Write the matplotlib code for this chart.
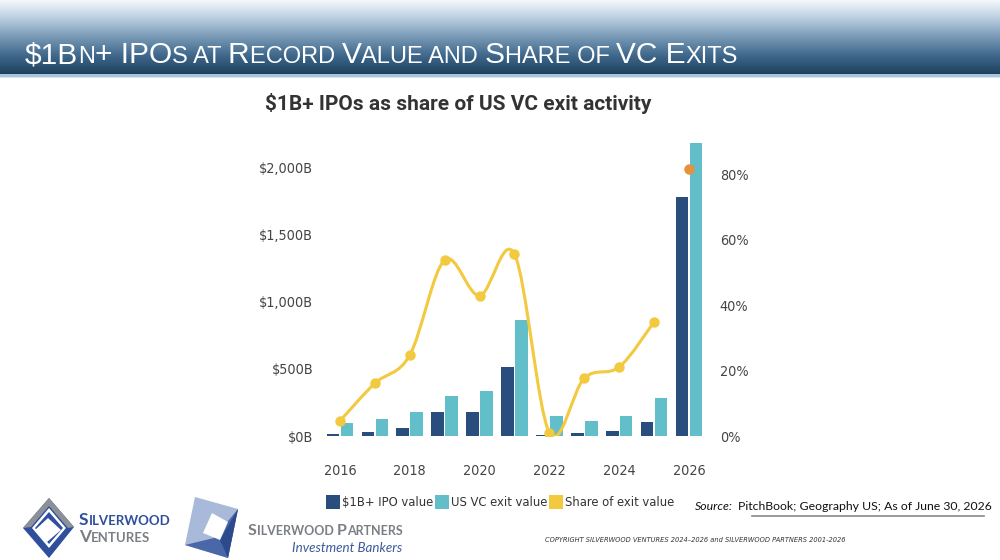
import numpy as np
import matplotlib.pyplot as plt
from matplotlib.path import Path
from matplotlib.patches import PathPatch, Polygon, Rectangle

# data
years = [2016, 2017, 2018, 2019, 2020, 2021, 2022, 2023, 2024, 2025, 2026]
ipo_value = [15, 32, 57, 178, 176, 515, 5, 20, 40, 102, 1779]          # $B
exit_value = [94, 124, 176, 300, 335, 862, 149, 114, 151, 283, 2181]   # $B
share_years = [2016, 2017, 2018, 2019, 2020, 2021, 2022, 2023, 2024, 2025]
share = [4.6, 16.1, 24.7, 53.8, 42.9, 55.6, 1.0, 17.7, 21.1, 34.9]     # %
share_2026 = 81.7

left_ticks = [0, 500, 1000, 1500, 2000]
left_labels = ['$0B', '$500B', '$1,000B', '$1,500B', '$2,000B']
right_ticks = [0, 20, 40, 60, 80]
right_labels = ['0%', '20%', '40%', '60%', '80%']
year_ticks = [2016, 2018, 2020, 2022, 2024, 2026]

c_ipo = '#294d7c'
c_exit = '#62bec8'
c_share = '#f2c93f'
c_last = '#e8913c'
c_tick = '#444444'

W, H = 1000, 560
fig = plt.figure(figsize=(10, 5.6), dpi=100)

# background layer in pixel coords
bg = fig.add_axes([0, 0, 1, 1])
bg.set_xlim(0, W)
bg.set_ylim(H, 0)
bg.axis('off')

# header gradient band
grad = np.linspace(0, 1, 74)
stops = np.array([[0.96, 0.97, 0.98], [0.72, 0.80, 0.88], [0.47, 0.60, 0.71],
                  [0.25, 0.41, 0.55], [0.12, 0.26, 0.37]])
pos = np.linspace(0, 1, len(stops))
rgb = np.stack([np.interp(grad, pos, stops[:, k]) for k in range(3)], axis=1)
bg.imshow(rgb[:, None, :], extent=[0, W, 74, 0], aspect='auto', zorder=0)
bg.add_patch(Rectangle((0, 74), W, 2.5, color='#a9c4de', lw=0))
bg.add_patch(Rectangle((0, 76.5), W, 1.5, color='#d8e4f0', lw=0))
bg.set_xlim(0, W)
bg.set_ylim(H, 0)

renderer = fig.canvas.get_renderer()


def small_caps(parts, x, y, color, family, weight='normal', style='normal'):
    # parts: list of (text, size)
    for txt, size in parts:
        t = bg.text(x, y, txt, fontsize=size, color=color, family=family,
                    weight=weight, style=style, va='baseline', ha='left')
        bb = t.get_window_extent(renderer)
        x += bb.width
    return x


B, S = 21.5, 17
small_caps([('$1B', B), ('N', S), ('+ IPO', B), ('S AT ', S), ('R', B), ('ECORD ', S),
            ('V', B), ('ALUE AND ', S), ('S', B), ('HARE OF ', S), ('VC E', B), ('XITS', S)],
           25, 63, 'white', ['Liberation Sans', 'DejaVu Sans'])

# chart title
bg.text(265, 104, '$1B+ IPOs as share of US VC exit activity', fontsize=15,
        weight='bold', color='#333333', family=['Roboto', 'DejaVu Sans'],
        va='center', ha='left')

# main chart
ax = fig.add_axes([320 / W, (H - 436) / H, 390 / W, (436 - 140) / H])
x = np.array(years)
ax.bar(x - 0.2, ipo_value, width=0.36, color=c_ipo, zorder=2)
ax.bar(x + 0.2, exit_value, width=0.36, color=c_exit, zorder=2)
ax.set_xlim(2015.43, 2026.60)
ax.set_ylim(0, 2203)
ax.set_yticks(left_ticks)
ax.set_yticklabels(left_labels)
ax.set_xticks(year_ticks)
ax.tick_params(axis='y', length=0, pad=5, labelsize=10.3, labelcolor=c_tick)
ax.tick_params(axis='x', length=0, pad=20, labelsize=10.3, labelcolor=c_tick)
for s in ax.spines.values():
    s.set_visible(False)

ax2 = ax.twinx()
ax2.set_ylim(0, 90.49)
ax2.set_yticks(right_ticks)
ax2.set_yticklabels(right_labels)
ax2.tick_params(axis='y', length=0, pad=7, labelsize=10.3, labelcolor=c_tick)
for s in ax2.spines.values():
    s.set_visible(False)
for lab in ax.get_xticklabels() + ax.get_yticklabels() + ax2.get_yticklabels():
    lab.set_family('DejaVu Sans')
    lab.set_stretch('condensed')

# smooth line through share points (catmull-rom drawn as bezier path)
pts = np.column_stack([share_years, share]).astype(float)
verts = [tuple(pts[0])]
codes = [Path.MOVETO]
n = len(pts)
for i in range(n - 1):
    p0 = pts[max(i - 1, 0)]
    p1 = pts[i]
    p2 = pts[i + 1]
    p3 = pts[min(i + 2, n - 1)]
    c1 = p1 + (p2 - p0) / 6
    c2 = p2 - (p3 - p1) / 6
    verts += [tuple(c1), tuple(c2), tuple(p2)]
    codes += [Path.CURVE4] * 3
ax2.add_patch(PathPatch(Path(verts, codes), fill=False, edgecolor=c_share, lw=2.2,
                        zorder=3, capstyle='round'))
ax2.plot(share_years, share, 'o', color=c_share, ms=6.5, zorder=4)
ax2.plot([2026], [share_2026], 'o', color=c_last, ms=6.5, zorder=4)

# legend
leg = [(326, c_ipo, '$1B+ IPO value'), (435, c_exit, 'US VC exit value'),
       (549, c_share, 'Share of exit value')]
for lx, col, lab in leg:
    bg.add_patch(Rectangle((lx, 495), 14, 14, color=col, lw=0))
    bg.text(lx + 16, 502.5, lab, fontsize=9.3, color='#333333', family='DejaVu Sans',
            stretch='condensed', va='center', ha='left')

# source
bg.text(695, 507, 'Source:', fontsize=8.8, style='italic', color='#111111',
        family=['Lato', 'DejaVu Sans'], va='center')
bg.text(738, 507, 'PitchBook; Geography US; As of June 30, 2026', fontsize=8.8,
        color='#111111', family=['Lato', 'DejaVu Sans'], va='center')
bg.plot([752, 984], [516, 516], color='#8a8a8a', lw=1.2)

bg.text(545, 540, 'COPYRIGHT SILVERWOOD VENTURES 2024\u20132026 and SILVERWOOD PARTNERS 2001-2026',
        fontsize=5.3, style='italic', color='#333333', family='DejaVu Sans',
        stretch='condensed', va='center')

# Silverwood Ventures logo
blue, gray = '#2f4f9c', '#8c9196'
bg.add_patch(Polygon([(49, 498), (74, 527), (49, 558), (23, 528)], color=blue, lw=0))
bg.add_patch(Polygon([(49, 498), (74, 527), (68, 528), (49, 506), (31, 527), (23, 528)],
                     color=gray, lw=0))
bg.add_patch(Polygon([(49, 508), (66, 528), (49, 548), (32, 528)], color='white', lw=0))
bg.add_patch(Polygon([(49, 512), (63, 528), (49, 544), (35, 528)], color=blue, lw=0))
bg.add_patch(Polygon([(48, 518), (61, 530), (47, 542), (35, 530)], color='white', lw=0))
small_caps([('S', 12.5), ('ILVERWOOD', 9.5)], 79, 525, blue,
           ['Lato', 'DejaVu Sans'], weight='bold')
small_caps([('V', 12.5), ('ENTURES', 9.5)], 79, 542, '#7a7f85',
           ['Lato', 'DejaVu Sans'], weight='bold')

# Silverwood Partners logo
bg.add_patch(Polygon([(195, 497), (238, 509), (228, 558), (185, 545)], color='#a9b9d9', lw=0))
bg.add_patch(Polygon([(238, 509), (228, 558), (185, 545), (214, 538)], color='#4a67a8', lw=0))
bg.add_patch(Polygon([(238, 509), (228, 558), (220, 540)], color='#2c4a8c', lw=0))
bg.add_patch(Polygon([(212, 513), (228, 522), (220, 540), (203, 533)], color='white', lw=0))
small_caps([('S', 11.5), ('ILVERWOOD ', 9), ('P', 11.5), ('ARTNERS', 9)], 248, 535,
           '#7a7f85', ['Lato', 'DejaVu Sans'], weight='bold')
bg.text(402, 548, 'Investment Bankers', fontsize=9.6, style='italic', color='#3b5a9a',
        family=['Lato', 'DejaVu Sans'], va='center', ha='right')

fig.savefig('out.png', dpi=100)
